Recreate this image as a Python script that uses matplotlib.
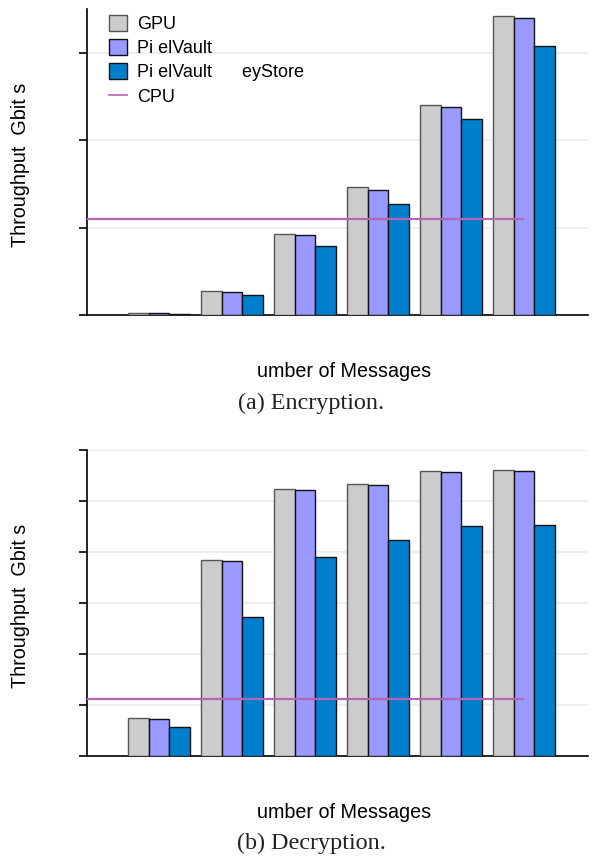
import numpy as np
import matplotlib
matplotlib.use("Agg")
import matplotlib.pyplot as plt
from matplotlib.patches import Patch
from matplotlib.lines import Line2D

plt.rcParams['font.family'] = ['Liberation Sans', 'DejaVu Sans']

# Throughput per message batch (tick units)
groups = np.arange(6)
enc_gpu = [0.02, 0.27, 0.926, 1.466, 2.40, 3.42]
enc_pixel = [0.02, 0.263, 0.918, 1.432, 2.38, 3.40]
enc_keystore = [0.016, 0.232, 0.785, 1.265, 2.24, 3.08]
enc_cpu = 1.10

dec_gpu = [0.75, 3.84, 5.23, 5.33, 5.58, 5.60]
dec_pixel = [0.73, 3.82, 5.21, 5.30, 5.55, 5.57]
dec_keystore = [0.57, 2.73, 3.90, 4.22, 4.50, 4.53]
dec_cpu = 1.11

series_labels = ['GPU', 'Pi elVault', 'Pi elVault      eyStore', 'CPU']
xlabel = 'umber of Messages'
ylabel = 'Throughput  Gbit s '
captions = ['(a) Encryption.', '(b) Decryption.']

fills = ['#cccccc', '#9999ff', '#007fcc']
edges = ['#555555', '#111111', '#111111']
cpu_color = '#b565b5'

fig = plt.figure(figsize=(5.94, 8.57), dpi=100)
ax1 = fig.add_axes([87 / 594, 1 - 315 / 857, 501 / 594, 306 / 857])
ax2 = fig.add_axes([87 / 594, 1 - 756 / 857, 501 / 594, 306.5 / 857])

width = 0.2836
xlo, xhi = -0.986, 5.877


def draw_panel(ax, gpu, pixel, keystore, cpu, ymax, yticks):
    for i, vals in enumerate([gpu, pixel, keystore]):
        ax.bar(groups + (i - 1) * width, vals, width, color=fills[i],
               edgecolor=edges[i], linewidth=1.0, zorder=3)
    ax.hlines(cpu, xlo, groups[-1], color=cpu_color, linewidth=1.6, zorder=4)
    ax.set_xlim(xlo, xhi)
    ax.set_ylim(0, ymax)
    ax.set_yticks(yticks)
    ax.set_yticklabels([])
    ax.set_xticks([])
    for y in yticks[1:]:
        ax.axhline(y, color='#ebebeb', linewidth=1.2, zorder=1)
    for s in ['top', 'right']:
        ax.spines[s].set_visible(False)
    ax.spines['left'].set_linewidth(1.2)
    ax.spines['bottom'].set_linewidth(1.2)
    ax.tick_params(axis='y', length=6, width=1.2, direction='out')
    ax.set_xlabel(xlabel, fontsize=14.2, va='center')
    ax.xaxis.set_label_coords(0.513, -0.185)
    ax.set_ylabel(ylabel, fontsize=14.2, va='center')
    ax.yaxis.set_label_coords(-0.133, 0.5)


draw_panel(ax1, enc_gpu, enc_pixel, enc_keystore, enc_cpu, 3.5, [0, 1, 2, 3])
draw_panel(ax2, dec_gpu, dec_pixel, dec_keystore, dec_cpu, 6, [0, 1, 2, 3, 4, 5, 6])

handles = [Patch(facecolor=fills[i], edgecolor=edges[i], linewidth=1.0) for i in range(3)]
handles.append(Line2D([], [], color=cpu_color, linewidth=1.2))
ax1.legend(handles, series_labels, loc='upper left', bbox_to_anchor=(0.044, 0.98),
           frameon=False, fontsize=13, handlelength=1.0, handleheight=0.95,
           handletextpad=0.55, labelspacing=0.34, borderpad=0, borderaxespad=0)

for cap, y in zip(captions, [403, 843]):
    fig.text(311.5 / 594, 1 - y / 857, cap, ha='center', va='center',
             fontsize=17.4, family='Liberation Serif', color='#222222')

fig.savefig('out.png', dpi=100)
